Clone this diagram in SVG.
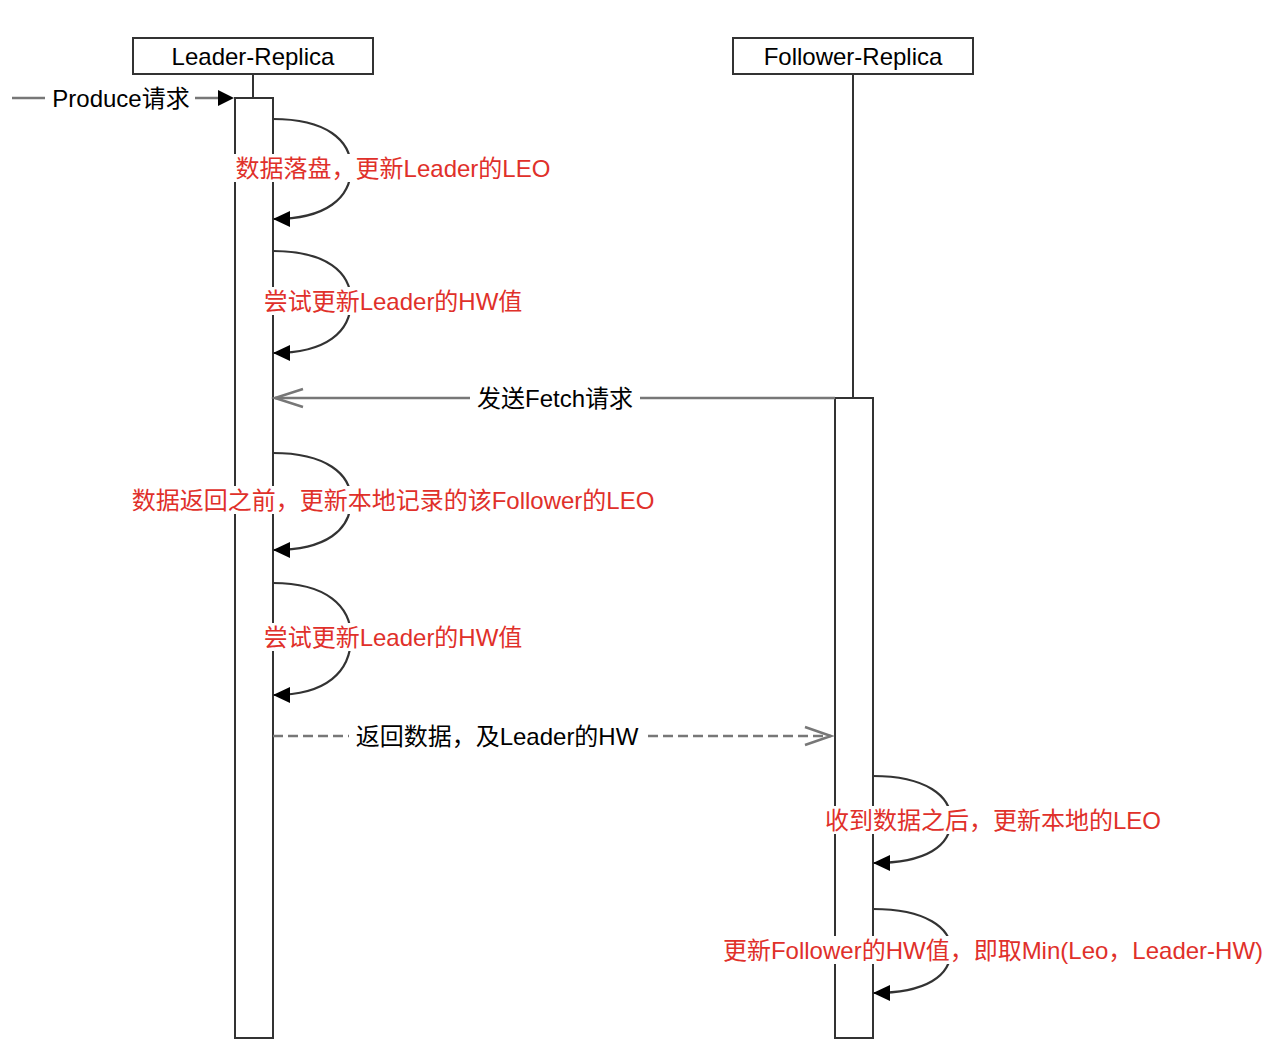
<svg xmlns="http://www.w3.org/2000/svg" width="1284" height="1056" viewBox="0 0 1284 1056">
<defs>
<style>
.box{fill:#fff;stroke:#333;stroke-width:2}
.life{stroke:#333;stroke-width:2;fill:none}
.loop{stroke:#333;stroke-width:2.2;fill:none;marker-end:url(#fill)}
.msg{stroke:#777;stroke-width:2.5;fill:none}
.t{font-family:"Liberation Sans","Noto Sans CJK SC",sans-serif;font-size:24px;fill:#000;text-anchor:middle;dominant-baseline:central}
.r{fill:#e0302a}
.bg{fill:#fff}
</style>
<marker id="fill" viewBox="0 0 17 16" refX="16" refY="8" markerWidth="17" markerHeight="16" markerUnits="userSpaceOnUse" orient="auto">
<path d="M0,0 L17,8 L0,16 Z" fill="#000"/>
</marker>
</defs>
<rect width="1284" height="1056" fill="#fff"/>
<g id="leader">
<rect class="box" x="133" y="38" width="240" height="36"/>
<text class="t" x="253" y="56">Leader-Replica</text>
<line class="life" x1="253" y1="74" x2="253" y2="98"/>
<rect class="box" x="235" y="98" width="38" height="940"/>
</g>
<g id="follower">
<rect class="box" x="733" y="38" width="240" height="36"/>
<text class="t" x="853" y="56">Follower-Replica</text>
<line class="life" x1="853" y1="74" x2="853" y2="398"/>
<rect class="box" x="835" y="398" width="38" height="640"/>
</g>
<g id="connectors">
<line class="msg" x1="12" y1="98" x2="218" y2="98"/>
<path d="M218,90 L234,98 L218,106 Z" fill="#000"/>
<rect class="bg" x="45" y="84" width="150" height="28"/>
<text class="t" x="121" y="98">Produce请求</text>

<path class="loop" d="M273,119 C326,119 351,140 351,168 C351,198 326,219 274,219"/>
<path class="loop" d="M273,251 C326,251 351,272 351,301 C351,332 326,353 274,353"/>
<path class="loop" d="M273,453 C326,453 351,474 351,500 C351,530 326,550 274,550"/>
<path class="loop" d="M273,583 C326,583 351,606 351,637 C351,672 326,695 274,695"/>
<path class="loop" d="M873,776 C926,776 951,796 951,820 C951,846 926,863 874,863"/>
<path class="loop" d="M873,909 C926,909 951,928 951,950 C951,976 926,993 874,993"/>

<line class="msg" x1="835" y1="398" x2="275" y2="398"/>
<path d="M303,389 L275,398 L303,407" fill="none" stroke="#777" stroke-width="2.5"/>
<rect class="bg" x="470" y="384" width="170" height="28"/>
<text class="t" x="555" y="398">发送Fetch请求</text>

<line class="msg" x1="273" y1="736" x2="831" y2="736" stroke-dasharray="10,5"/>
<path d="M805,727 L831,736 L805,745" fill="none" stroke="#777" stroke-width="2.5"/>
<rect class="bg" x="349" y="722" width="295" height="28"/>
<text class="t" x="497" y="736">返回数据，及Leader的HW</text>

<rect class="bg" x="232" y="154" width="322" height="28"/>
<text class="t r" x="393" y="168">数据落盘，更新Leader的LEO</text>
<rect class="bg" x="261" y="287" width="265" height="28"/>
<text class="t r" x="393" y="301">尝试更新Leader的HW值</text>
<rect class="bg" x="129" y="486" width="529" height="28"/>
<text class="t r" x="393" y="500">数据返回之前，更新本地记录的该Follower的LEO</text>
<rect class="bg" x="261" y="623" width="265" height="28"/>
<text class="t r" x="393" y="637">尝试更新Leader的HW值</text>
<rect class="bg" x="822" y="806" width="342" height="28"/>
<text class="t r" x="993" y="820">收到数据之后，更新本地的LEO</text>
<rect class="bg" x="720" y="936" width="547" height="28"/>
<text class="t r" x="993" y="950">更新Follower的HW值，即取Min(Leo，Leader-HW)</text>
</g>
</svg>
